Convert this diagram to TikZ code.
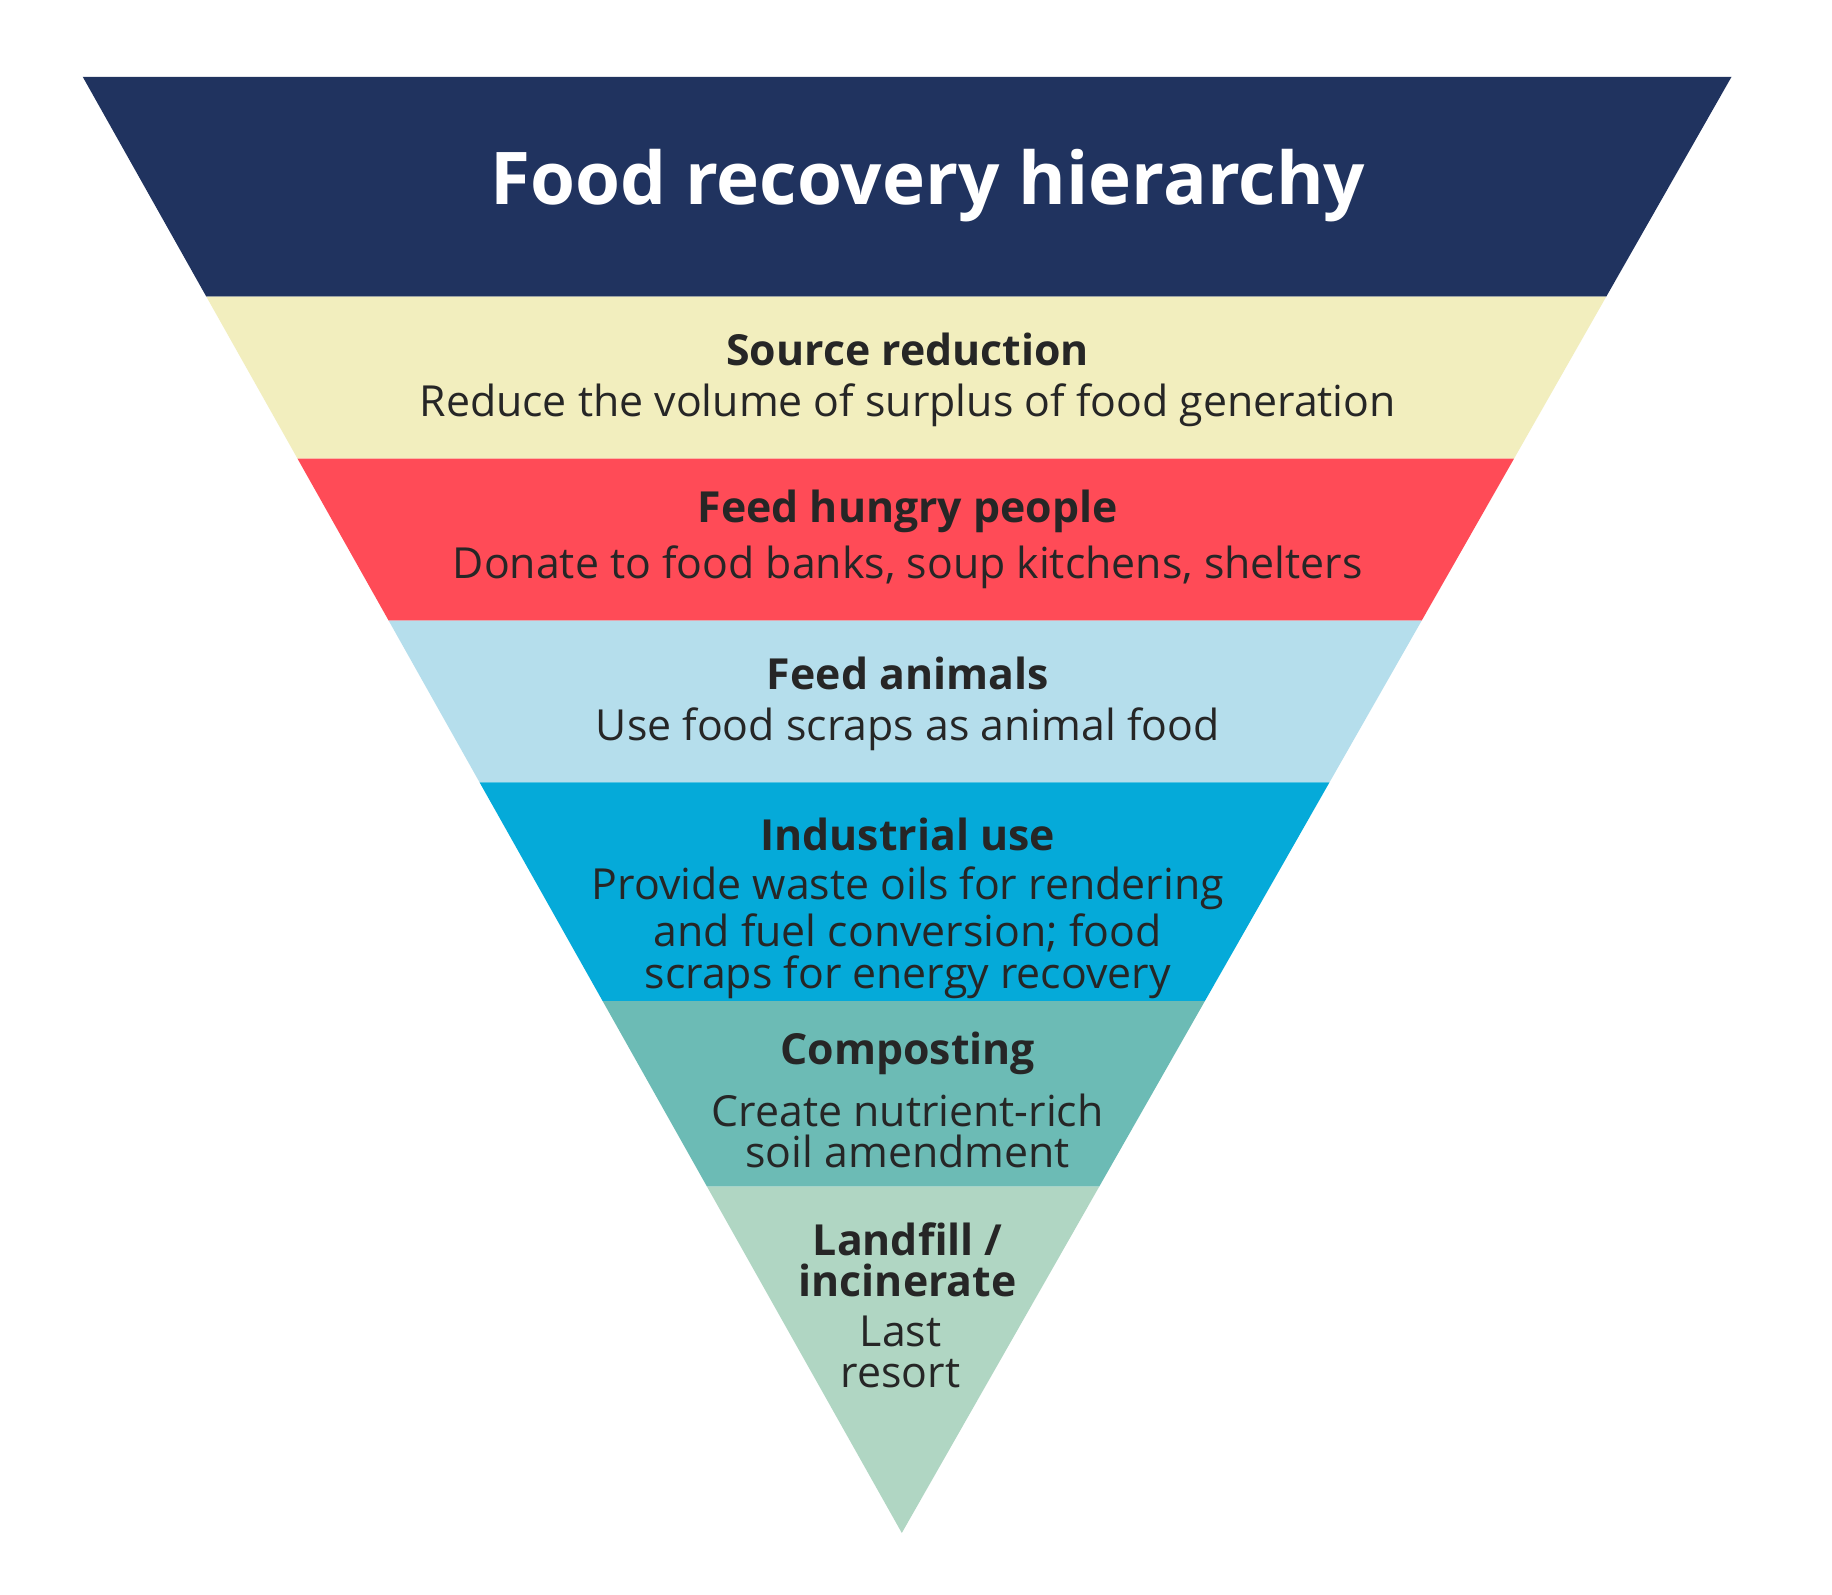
\documentclass[tikz,border=0pt]{standalone}
\usepackage{fontspec}
\setmainfont{Open Sans}
\definecolor{navy}{HTML}{20335F}
\definecolor{cyel}{HTML}{F2EEBE}
\definecolor{cred}{HTML}{FF4B57}
\definecolor{clb}{HTML}{B5DEEC}
\definecolor{ccy}{HTML}{05AAD9}
\definecolor{cteal}{HTML}{6CBBB5}
\definecolor{cmint}{HTML}{B0D6C3}
\begin{document}
\begin{tikzpicture}[x=0.01cm,y=-0.01cm,
  head/.style={font=\fontsize{10.3}{10}\selectfont\bfseries,text=black!85,inner sep=0},
  sub/.style={font=\fontsize{10.3}{10}\selectfont,text=black!85,inner sep=0,align=center},
  ml/.style={sub,font=\fontsize{10.3}{10.0}\selectfont}]
\useasboundingbox (0,0) rectangle (1550,1349);
\fill[white] (0,0) rectangle (1550,1349);
\fill[navy] (70,65) -- (1465,65) -- (1359,251) -- (174.6,251) -- cycle;
\fill[cyel] (174.6,251) -- (1359,251) -- (1281,388) -- (251.7,388) -- cycle;
\fill[cred] (251.7,388) -- (1281,388) -- (1202.9,525) -- (328.8,525) -- cycle;
\fill[clb] (328.8,525) -- (1202.9,525) -- (1124.8,662) -- (405.8,662) -- cycle;
\fill[ccy] (405.8,662) -- (1124.8,662) -- (1019.4,847) -- (509.9,847) -- cycle;
\fill[cteal] (509.9,847) -- (1019.4,847) -- (930,1004) -- (598.2,1004) -- cycle;
\fill[cmint] (598.2,1004) -- (930,1004) -- (763,1297) -- cycle;
\node[font=\fontsize{17.5}{18}\selectfont\bfseries,text=white,inner sep=0] (title) at (785,157) {Food recovery hierarchy};
\node[head] (h1) at (768,296) {Source reduction};
\node[sub] (s1) at (768,343) {Reduce the volume of surplus of food generation};
\node[head] (h2) at (768,433) {Feed hungry people};
\node[sub] (s2) at (768,480) {Donate to food banks, soup kitchens, shelters};
\node[head] (h3) at (768,570) {Feed animals};
\node[sub] (s3) at (768,617) {Use food scraps as animal food};
\node[head] (h4) at (768,706) {Industrial use};
\node[ml] (s4) at (768,789) {Provide waste oils for rendering\\and fuel conversion; food\\scraps for energy recovery};
\node[head] (h5) at (768,891) {Composting};
\node[ml] (s5) at (768,957) {Create nutrient-rich\\soil amendment};
\node[head,align=center,font=\fontsize{10.3}{10.0}\selectfont\bfseries] (h6) at (768,1066) {Landfill /\\incinerate};
\node[ml] (s6) at (762,1144) {Last\\resort};
\end{tikzpicture}
\end{document}
